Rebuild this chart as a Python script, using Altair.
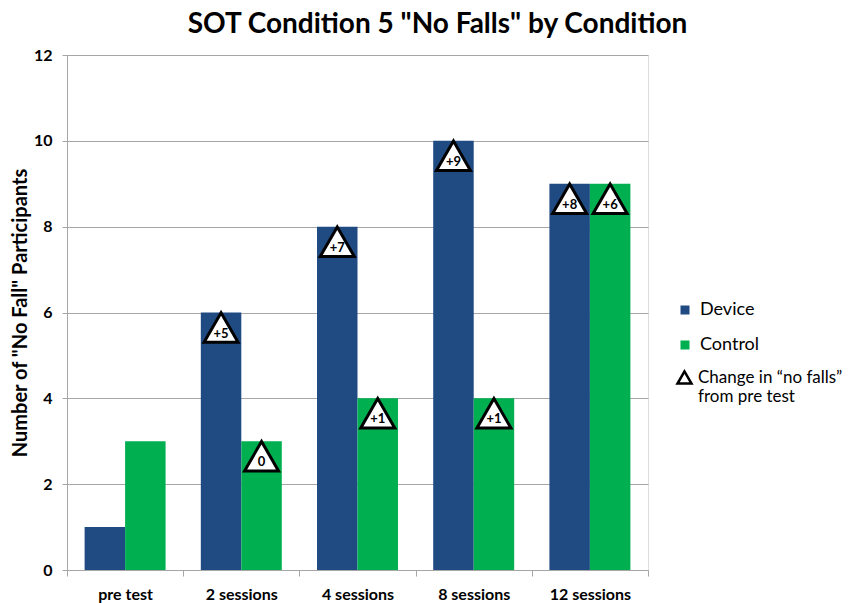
import altair as alt
import pandas as pd

categories = ["pre test", "2 sessions", "4 sessions", "8 sessions", "12 sessions"]
groups = ["Device", "Control"]
device_values = [1, 6, 8, 10, 9]
control_values = [3, 3, 4, 4, 9]
device_change = [None, "+5", "+7", "+9", "+8"]
control_change = [None, "0", "+1", "+1", "+6"]
marker_label = "Change in \u201cno falls\u201d from pre test"

rows = []
for i, c in enumerate(categories):
    rows.append({"cat": c, "group": "Device", "value": device_values[i],
                 "change": device_change[i], "marker": marker_label})
    rows.append({"cat": c, "group": "Control", "value": control_values[i],
                 "change": control_change[i], "marker": marker_label})
df = pd.DataFrame(rows)

FONT = "Lato"
GRAY = "#a6a6a6"

x_enc = alt.X("cat:N", sort=categories, title=None,
              scale=alt.Scale(paddingInner=0, paddingOuter=0),
              axis=alt.Axis(labelAngle=0, tickBand="extent", tickSize=6,
                            tickColor=GRAY, domainColor=GRAY,
                            labelFont=FONT, labelFontSize=16, labelFontWeight="bold",
                            labelColor="black", labelPadding=10, grid=False))
xoff_enc = alt.XOffset("group:N", sort=groups,
                       scale=alt.Scale(domain=groups, paddingInner=0, paddingOuter=0.435))
y_enc = alt.Y("value:Q", title='Number of "No Fall" Participants',
              scale=alt.Scale(domain=[0, 12], nice=False),
              axis=alt.Axis(values=[0, 2, 4, 6, 8, 10, 12], grid=True, gridColor=GRAY,
                            tickColor=GRAY, domainColor=GRAY, tickSize=5,
                            labelFont=FONT, labelFontSize=16, labelFontWeight="bold",
                            labelColor="black", labelPadding=10,
                            titleFont=FONT, titleFontSize=20, titleFontWeight="bold",
                            titleColor="black", titlePadding=3))

bars = alt.Chart(df).mark_bar().encode(
    x=x_enc, xOffset=xoff_enc, y=y_enc,
    color=alt.Color("group:N", sort=groups,
                    scale=alt.Scale(domain=groups, range=["#1f4a82", "#00b050"]),
                    legend=alt.Legend(title=None, orient="none", legendX=609, legendY=246,
                                      symbolType="square", symbolSize=81,
                                      labelFont=FONT, labelFontSize=18, labelColor="black",
                                      labelOffset=6, rowPadding=17, padding=0)),
)

tri_base = alt.Chart(df).transform_filter("datum.change != null")

triangles = tri_base.mark_point(shape="triangle-up", size=1156, filled=False,
                                fill="white", fillOpacity=1, strokeWidth=3,
                                opacity=1, yOffset=15).encode(
    x=alt.X("cat:N", sort=categories), xOffset=alt.XOffset("group:N", sort=groups),
    y=alt.Y("value:Q"),
    stroke=alt.Stroke("marker:N",
                      scale=alt.Scale(domain=[marker_label], range=["black"]),
                      legend=alt.Legend(title=None, orient="none", legendX=609, legendY=314,
                                        symbolType="triangle-up",
                                        symbolSize=196, symbolStrokeWidth=2.5,
                                        symbolFillColor="white",
                                        labelExpr="['Change in \u201cno falls\u201d', 'from pre test']",
                                        labelFont=FONT, labelFontSize=17, labelColor="black",
                                        labelOffset=5, padding=0)),
)

labels = tri_base.mark_text(font=FONT, fontSize=13, fontWeight="bold", color="black",
                            baseline="middle", yOffset=21).encode(
    x=alt.X("cat:N", sort=categories), xOffset=alt.XOffset("group:N", sort=groups),
    y=alt.Y("value:Q"),
    text="change:N",
)

chart = alt.layer(bars, triangles, labels).properties(
    width=581, height=515,
    title=alt.TitleParams('SOT Condition 5 "No Falls" by Condition', font=FONT,
                          fontSize=28, fontWeight="bold", color="black",
                          anchor="middle", dx=80, offset=8),
    autosize=alt.AutoSizeParams(type="none"),
    padding={"left": 59, "top": 47, "right": 194, "bottom": 40},
).configure_view(stroke=None).configure(background="white")

chart.save("out.html", embed_options={"renderer": "svg", "actions": False})
